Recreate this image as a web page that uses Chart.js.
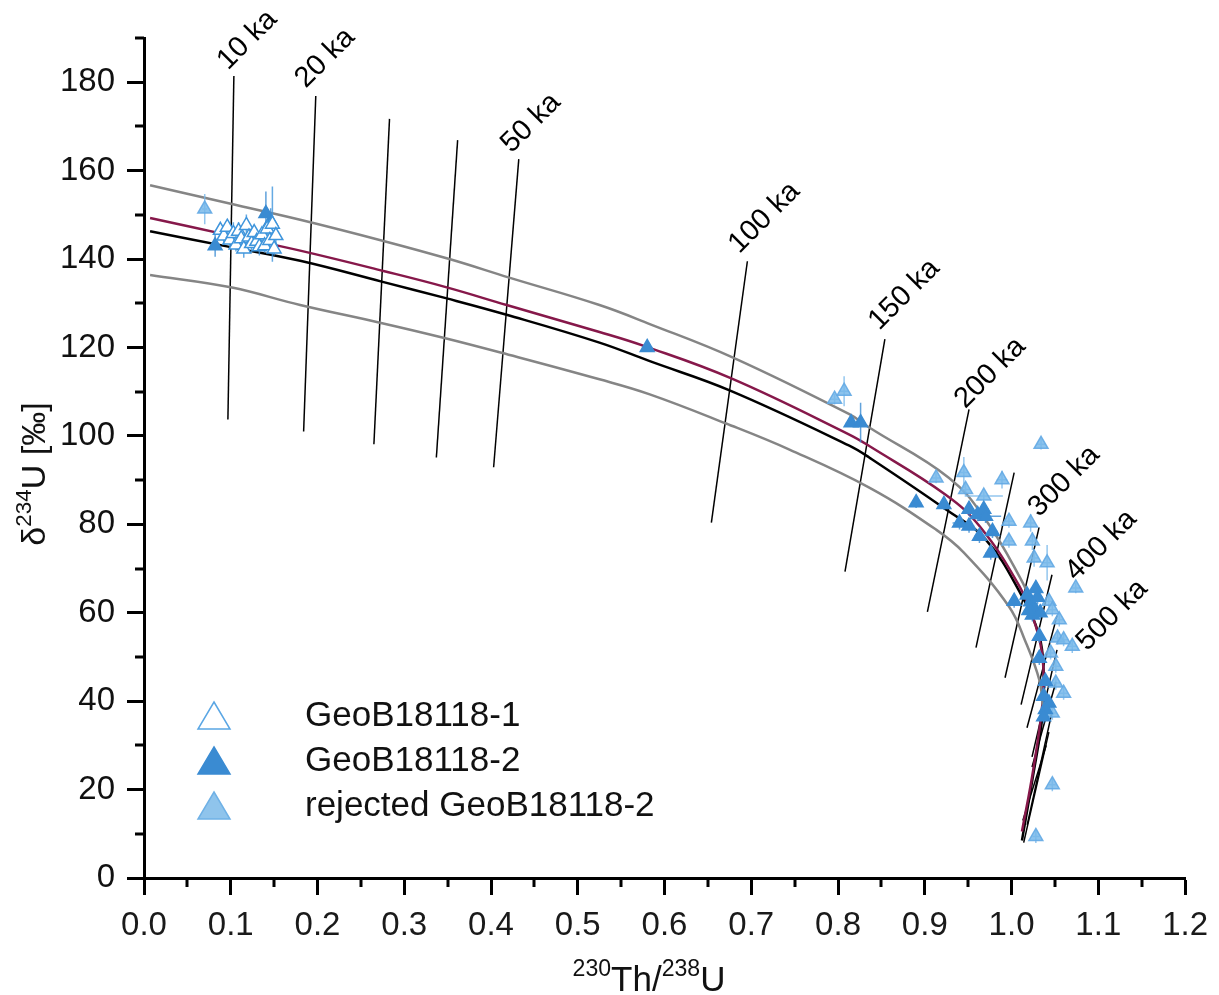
<!DOCTYPE html>
<html>
<head>
<meta charset="utf-8">
<script src="https://cdn.jsdelivr.net/npm/chart.js@4.4.0/dist/chart.umd.min.js"></script>
<style>
  html, body { margin: 0; padding: 0; background: #fff; }
</style>
</head>
<body>
<canvas id="myChart" width="1219" height="995"></canvas>
<script>
(function () {
  'use strict'

  const seriesNames = ['GeoB18118-1', 'GeoB18118-2', 'rejected GeoB18118-2']
  const xTickLabels = ['0.0', '0.1', '0.2', '0.3', '0.4', '0.5', '0.6', '0.7', '0.8', '0.9', '1.0', '1.1', '1.2']
  const yTickLabels = [0, 20, 40, 60, 80, 100, 120, 140, 160, 180]

  // [230Th/238U, d234U, x error, y error]
  const geoB1 = [
    [0.088, 146.5, 0.004, 1.5], [0.092, 145.2, 0.004, 2.0], [0.096, 147.2, 0.004, 1.5], [0.099, 144.3, 0.004, 1.5],
    [0.103, 145.8, 0.004, 2.5], [0.106, 143.2, 0.004, 1.5], [0.109, 146.3, 0.004, 2.0], [0.112, 144.6, 0.004, 1.5],
    [0.115, 142.3, 0.004, 2.0], [0.118, 147.6, 0.004, 2.5], [0.121, 145.0, 0.004, 1.5], [0.124, 143.5, 0.004, 2.0],
    [0.127, 146.0, 0.004, 1.5], [0.130, 144.0, 0.004, 1.5], [0.133, 142.8, 0.004, 2.0], [0.136, 145.5, 0.004, 1.5],
    [0.139, 143.0, 0.004, 1.5], [0.142, 146.8, 0.004, 2.0], [0.145, 144.2, 0.004, 1.5], [0.148, 147.9, 0.004, 8.5],
    [0.150, 142.3, 0.004, 1.5], [0.152, 145.3, 0.004, 2.0]
  ]
  const geoB2 = [
    [0.082, 143.0, 0.004, 2.5], [0.1405, 150.3, 0.004, 5.0], [0.146, 148.5, 0.004, 3.0], [0.580, 120.0, 0.006, 1.0],
    [0.815, 103.0, 0.006, 1.0], [0.826, 103.0, 0.006, 4.5], [0.890, 84.9, 0.006, 1.2], [0.922, 84.5, 0.006, 1.2],
    [0.940, 80.3, 0.008, 1.5], [0.951, 79.6, 0.006, 1.5], [0.951, 83.4, 0.006, 1.5], [0.961, 82.2, 0.006, 1.5],
    [0.968, 83.4, 0.006, 1.5], [0.970, 81.8, 0.018, 1.5], [0.963, 77.3, 0.006, 1.5], [0.978, 78.4, 0.006, 1.5],
    [0.976, 73.5, 0.006, 1.5], [1.003, 62.6, 0.006, 1.5], [1.018, 64.0, 0.006, 1.5], [1.022, 62.5, 0.006, 1.5],
    [1.026, 61.0, 0.006, 1.5], [1.030, 63.5, 0.006, 1.5], [1.024, 59.5, 0.006, 1.5], [1.020, 60.5, 0.006, 1.5],
    [1.028, 65.5, 0.006, 1.5], [1.033, 60.0, 0.006, 1.5], [1.032, 54.7, 0.005, 1.5], [1.032, 49.7, 0.005, 1.5],
    [1.039, 44.5, 0.005, 1.5], [1.037, 41.1, 0.005, 1.5], [1.043, 39.6, 0.005, 1.5], [1.039, 38.1, 0.005, 1.5],
    [1.037, 36.5, 0.005, 1.5]
  ]
  const rejected = [
    [0.070, 151.3, 0.003, 3.4], [0.796, 108.3, 0.005, 1.2], [0.807, 110.1, 0.005, 3.4], [0.913, 90.5, 0.005, 1.2],
    [0.945, 91.7, 0.005, 3.5], [0.947, 87.9, 0.005, 1.5], [0.968, 86.4, 0.022, 1.0], [0.989, 90.1, 0.006, 2.0],
    [0.997, 80.7, 0.006, 1.5], [0.997, 76.2, 0.006, 1.5], [1.034, 98.1, 0.005, 1.2], [1.022, 80.3, 0.005, 2.0],
    [1.024, 76.2, 0.005, 2.0], [1.026, 72.4, 0.005, 2.0], [1.041, 71.3, 0.005, 4.0], [1.074, 65.6, 0.005, 1.2],
    [1.043, 62.6, 0.005, 1.5], [1.047, 60.7, 0.005, 1.5], [1.055, 58.4, 0.005, 1.5], [1.053, 54.3, 0.005, 1.5],
    [1.060, 53.9, 0.005, 1.5], [1.070, 52.4, 0.005, 1.5], [1.045, 50.9, 0.005, 1.5], [1.051, 47.9, 0.005, 1.5],
    [1.051, 44.1, 0.005, 1.5], [1.060, 41.8, 0.005, 1.5], [1.047, 37.3, 0.005, 1.5], [1.047, 21.1, 0.004, 1.5],
    [1.028, 9.4, 0.004, 1.5]
  ]

  // closed-system evolution curves [x, y]
  const curveMain = [
    [0.007, 146.3], [0.100, 142.7], [0.180, 139.6], [0.274, 134.9], [0.349, 131.1], [0.418, 127.4], [0.525, 121.1],
    [0.583, 116.9], [0.675, 110.3], [0.813, 97.8], [0.836, 95.1], [0.924, 83.4], [0.970, 76.6], [1.011, 64.1],
    [1.032, 54.7], [1.037, 46.4], [1.036, 37.3], [1.024, 22.2], [1.012, 8.5]
  ]
  const curveMaroon = [
    [0.007, 149.3], [0.100, 145.3], [0.180, 141.9], [0.276, 137.3], [0.349, 133.6], [0.418, 129.6], [0.525, 123.5],
    [0.577, 120.3], [0.677, 113.0], [0.813, 100.3], [0.836, 97.7], [0.924, 86.7], [0.963, 79.6], [1.009, 66.0],
    [1.028, 56.9], [1.036, 49.4], [1.036, 40.3], [1.025, 24.5], [1.012, 10.5]
  ]
  const curveUpper = [
    [0.007, 156.7], [0.100, 152.5], [0.180, 148.9], [0.276, 144.1], [0.352, 140.0], [0.421, 135.8], [0.525, 129.6],
    [0.583, 125.3], [0.679, 117.7], [0.813, 104.9], [0.836, 101.9], [0.928, 90.5], [0.970, 81.1], [1.011, 67.5],
    [1.026, 61.0]
  ]
  const curveLower = [
    [0.007, 136.4], [0.100, 133.6], [0.180, 129.6], [0.272, 125.6], [0.345, 122.2], [0.412, 118.8], [0.525, 112.8],
    [0.583, 109.4], [0.671, 102.8], [0.744, 96.9], [0.836, 88.3], [0.913, 78.8], [0.945, 73.6], [0.997, 61.4],
    [1.016, 53.5], [1.032, 44.8], [1.036, 39.0]
  ]

  // isochrons [x top, y top, x bottom, y bottom]
  const isochrons = [
    [0.1036, 181.4, 0.0967, 103.7], [0.198, 176.9, 0.184, 101.0], [0.283, 171.7, 0.265, 98.1],
    [0.3615, 166.9, 0.337, 95.1], [0.432, 162.6, 0.403, 92.9], [0.6955, 139.5, 0.654, 80.4],
    [0.854, 121.9, 0.808, 69.3], [0.951, 106.0, 0.903, 60.2], [1.003, 91.7, 0.959, 52.1],
    [1.0317, 79.3, 0.9925, 45.3], [1.0466, 68.6, 1.011, 39.2], [1.0524, 59.3, 1.0178, 34.0],
    [1.0524, 51.6, 1.0236, 27.4], [1.0512, 44.4, 1.0236, 25.1], [1.046, 37.0, 1.018, 12.0],
    [1.043, 33.0, 1.014, 8.0], [1.040, 30.0, 1.013, 13.0]
  ]
  const ageLabels = ['10 ka', '20 ka', '50 ka', '100 ka', '150 ka', '200 ka', '300 ka', '400 ka', '500 ka']
  const ageLabelAt = [
    [0.0967, 182.6], [0.1865, 178.5], [0.4237, 163.8], [0.6862, 141.1], [0.8474, 123.7],
    [0.9465, 106.0], [1.0317, 81.5], [1.0743, 67.0], [1.087, 51.2]
  ]

  const FONT = "'Liberation Sans', Arial, sans-serif"
  const toXY = arr => arr.map(p => ({x: p[0], y: p[1]}))

  const pointSet = (name, arr, fill, stroke, err, order) => ({
    label: name, data: toXY(arr), errs: arr, errColor: err,
    showLine: false, pointStyle: 'triangle', pointRadius: 8,
    backgroundColor: fill, borderColor: stroke, borderWidth: 1.5, order: order
  })
  // smooth curves go through the line controller so that tension is honoured
  const curveSet = (arr, color) => ({
    type: 'line', data: toXY(arr), pointRadius: 0, borderColor: color,
    borderWidth: 2.5, tension: 0.4, fill: false, order: 5
  })

  const datasets = [
    pointSet(seriesNames[0], geoB1, '#ffffff', '#3f95dc', 'rgba(63,149,220,0.8)', 0),
    pointSet(seriesNames[1], geoB2, '#3a8bd2', '#3a8bd2', 'rgba(58,139,210,0.8)', 1),
    pointSet(seriesNames[2], rejected, 'rgba(120,184,234,0.85)', 'rgba(100,170,228,0.9)', 'rgba(120,184,234,0.8)', 2),
    curveSet(curveUpper, '#858585'),
    curveSet(curveLower, '#858585'),
    curveSet(curveMaroon, '#86184a'),
    curveSet(curveMain, '#000000')
  ]
  isochrons.forEach(l => {
    datasets.push({
      data: [{x: l[0], y: l[1]}, {x: l[2], y: l[3]}], showLine: true, pointRadius: 0,
      borderColor: '#000', borderWidth: 1.5, order: 6
    })
  })

  const errorBars = {
    id: 'errorBars',
    beforeDatasetDraw(chart, args) {
      const ds = chart.data.datasets[args.index]
      if (!ds.errs) return
      const {ctx} = chart
      const x = chart.scales.x, y = chart.scales.y
      ctx.save()
      ctx.strokeStyle = ds.errColor
      ctx.lineWidth = 1.5
      ctx.beginPath()
      ds.errs.forEach(p => {
        const px = x.getPixelForValue(p[0]), py = y.getPixelForValue(p[1])
        ctx.moveTo(x.getPixelForValue(p[0] - p[2]), py)
        ctx.lineTo(x.getPixelForValue(p[0] + p[2]), py)
        ctx.moveTo(px, y.getPixelForValue(p[1] - p[3]))
        ctx.lineTo(px, y.getPixelForValue(p[1] + p[3]))
      })
      ctx.stroke()
      ctx.restore()
    }
  }

  // draws text pieces [text, isSup] centred on 0, baseline 0
  function drawRich(ctx, parts, size) {
    let w = 0
    parts.forEach(p => {
      ctx.font = (p[1] ? size * 0.66 : size) + 'px ' + FONT
      w += ctx.measureText(p[0]).width
    })
    let cx = -w / 2
    parts.forEach(p => {
      ctx.font = (p[1] ? size * 0.66 : size) + 'px ' + FONT
      ctx.fillText(p[0], cx, p[1] ? -size * 0.42 : 0)
      cx += ctx.measureText(p[0]).width
    })
  }

  const decor = {
    id: 'decor',
    afterDraw(chart) {
      const {ctx} = chart
      const x = chart.scales.x, y = chart.scales.y
      const area = chart.chartArea
      ctx.save()
      ctx.strokeStyle = '#000'
      ctx.lineWidth = 3
      ctx.beginPath()
      for (let v = 0.05; v < 1.2; v += 0.1) {
        const px = Math.round(x.getPixelForValue(v))
        ctx.moveTo(px, area.bottom)
        ctx.lineTo(px, area.bottom + 9)
      }
      for (let v = 10; v <= 190; v += 20) {
        const py = Math.round(y.getPixelForValue(v))
        ctx.moveTo(area.left, py)
        ctx.lineTo(area.left - 9, py)
      }
      ctx.stroke()

      // age labels
      ctx.fillStyle = '#000'
      ctx.font = '29px ' + FONT
      ctx.textAlign = 'left'
      ctx.textBaseline = 'alphabetic'
      ageLabels.forEach((t, i) => {
        ctx.save()
        ctx.translate(x.getPixelForValue(ageLabelAt[i][0]), y.getPixelForValue(ageLabelAt[i][1]))
        ctx.rotate(-Math.PI / 4)
        ctx.fillText(t, 0, 0)
        ctx.restore()
      })

      // axis titles
      ctx.fillStyle = '#111'
      ctx.save()
      ctx.translate(649, 991)
      drawRich(ctx, [['230', true], ['Th/', false], ['238', true], ['U', false]], 35)
      ctx.restore()
      ctx.save()
      ctx.translate(45, 474)
      ctx.rotate(-Math.PI / 2)
      drawRich(ctx, [['\u03b4', false], ['234', true], ['U [\u2030]', false]], 34)
      ctx.restore()

      // legend
      const rows = [716, 761, 806]
      const styles = [
        ['#ffffff', '#5aa6e4'],
        ['#3a8bd2', '#3a8bd2'],
        ['#8fc4ec', '#6fb1e6']
      ]
      seriesNames.forEach((name, i) => {
        const cy = rows[i]
        ctx.beginPath()
        ctx.moveTo(214, cy - 14)
        ctx.lineTo(230, cy + 13)
        ctx.lineTo(198, cy + 13)
        ctx.closePath()
        ctx.fillStyle = styles[i][0]
        ctx.fill()
        ctx.strokeStyle = styles[i][1]
        ctx.lineWidth = 1.5
        ctx.stroke()
        ctx.fillStyle = '#111'
        ctx.font = '35px ' + FONT
        ctx.textBaseline = 'middle'
        ctx.fillText(name, 305, cy)
      })
      ctx.restore()
    }
  }

  Chart.defaults.font.family = FONT
  Chart.defaults.color = '#111'

  const ctx = document.getElementById('myChart').getContext('2d')
  const myChart = new Chart(ctx, {
    type: 'scatter',
    data: {datasets: datasets},
    options: {
      responsive: false,
      devicePixelRatio: 1,
      animation: false,
      events: [],
      layout: {padding: {top: 38, right: 33, left: 0, bottom: 0}},
      plugins: {legend: {display: false}, tooltip: {enabled: false}},
      scales: {
        x: {
          type: 'linear', min: 0, max: 1.2,
          afterFit: s => { s.height = 117 },
          afterBuildTicks: s => { s.ticks = xTickLabels.map(t => ({value: parseFloat(t)})) },
          ticks: {
            font: {size: 33}, padding: 11, color: '#1a1a1a',
            callback: v => xTickLabels.find(t => parseFloat(t) === v) || ''
          },
          grid: {drawOnChartArea: false, tickLength: 17, tickWidth: 3, tickColor: '#000'},
          border: {display: true, color: '#000', width: 3}
        },
        y: {
          type: 'linear', min: 0, max: 190,
          afterFit: s => { s.width = 144 },
          afterBuildTicks: s => { s.ticks = yTickLabels.map(t => ({value: t})) },
          ticks: {font: {size: 33}, padding: 12, color: '#111'},
          grid: {drawOnChartArea: false, tickLength: 17, tickWidth: 3, tickColor: '#000'},
          border: {display: true, color: '#000', width: 3}
        }
      }
    },
    plugins: [errorBars, decor]
  })
})()
</script>
</body>
</html>
